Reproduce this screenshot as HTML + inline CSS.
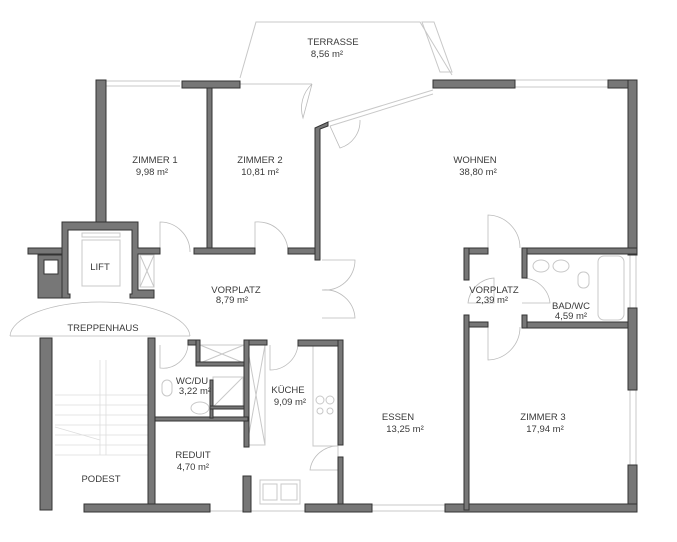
<!DOCTYPE html>
<html><head><meta charset="utf-8"><style>
html,body{margin:0;padding:0;background:#fff}
svg{display:block}
text{font-family:"Liberation Sans",sans-serif;font-size:9.5px;fill:#3a3a3a;text-anchor:middle}
.w{fill:#777;stroke:#333;stroke-width:1}
.l{fill:none;stroke:#c8c8c8;stroke-width:1}
.s{fill:none;stroke:#ddd;stroke-width:0.8}
.d{fill:none;stroke:#bbb;stroke-width:0.8}
</style></head><body>
<svg width="677" height="542" viewBox="0 0 677 542" xmlns="http://www.w3.org/2000/svg">
<polyline class="l" points="240,78 256,22 420,22 452,75"/>
<polygon class="l" points="422,22 434,22 452,72 440,72"/>
<line class="l" x1="105" y1="81" x2="180" y2="81"/><line class="l" x1="105" y1="86" x2="180" y2="86"/>
<line class="l" x1="240" y1="84" x2="312" y2="84"/>
<line class="l" x1="328" y1="122" x2="433" y2="90"/><line class="l" x1="330" y1="126" x2="433" y2="94"/>
<line class="l" x1="515" y1="80" x2="608" y2="80"/><line class="l" x1="515" y1="87" x2="608" y2="87"/>
<line class="l" x1="630" y1="255" x2="630" y2="308"/><line class="l" x1="636" y1="255" x2="636" y2="308"/>
<line class="l" x1="630" y1="390" x2="630" y2="465"/><line class="l" x1="636" y1="390" x2="636" y2="465"/>
<line class="l" x1="372" y1="505" x2="445" y2="505"/><line class="l" x1="372" y1="511" x2="445" y2="511"/>
<line class="l" x1="210" y1="511" x2="305" y2="511"/>
<path class="d" d="M312,84 L303,118 A33,33 0 0 1 312,84"/>
<path class="d" d="M330,126 L340,148 A28,28 0 0 0 360,120"/>
<path class="d" d="M160,252 L160,222 A30,30 0 0 1 190,252"/>
<path class="d" d="M255,252 L255,222 A30,30 0 0 1 288,252"/>
<path class="d" d="M322,260 L355,260 A30,30 0 0 1 322,290 A30,30 0 0 1 355,318 L322,318"/>
<path class="d" d="M10,336 A90,35 0 0 1 100,302 M100,302 A90,35 0 0 1 190,336 M10,336 L190,336"/>
<path class="d" d="M160,345 L160,368 A25,25 0 0 0 188,345"/>
<path class="d" d="M270,345 L270,370 A28,28 0 0 0 298,345"/>
<path class="d" d="M310,470 A28,28 0 0 1 338,446 L338,470 Z"/>
<path class="d" d="M488,248 L488,215 A33,33 0 0 1 520,248"/>
<path class="d" d="M468,303 A28,28 0 0 1 494,278 L494,303 Z"/>
<path class="d" d="M522,278 A28,28 0 0 1 550,303 L522,303"/>
<path class="d" d="M488,327 L488,360 A33,33 0 0 0 520,327"/>
<g class="s">
<line x1="55" y1="395" x2="148" y2="395"/><line x1="55" y1="405" x2="148" y2="405"/><line x1="55" y1="415" x2="148" y2="415"/>
<line x1="55" y1="425" x2="148" y2="425"/><line x1="55" y1="435" x2="148" y2="435"/><line x1="55" y1="445" x2="148" y2="445"/>
<line x1="55" y1="455" x2="148" y2="455"/><line x1="100" y1="360" x2="100" y2="455"/><line x1="106" y1="360" x2="106" y2="455"/>
<line x1="55" y1="427" x2="100" y2="440"/>
</g>
<g class="l">
<rect x="247" y="345" width="18" height="100"/><line x1="247" y1="345" x2="265" y2="445"/><line x1="265" y1="345" x2="247" y2="445"/>
<rect x="200" y="345" width="44" height="18"/><line x1="200" y1="345" x2="244" y2="363"/><line x1="244" y1="345" x2="200" y2="363"/>
<rect x="213" y="377" width="30" height="30"/><line x1="213" y1="407" x2="243" y2="377"/>
<rect x="313" y="346" width="25" height="100"/><circle cx="320" cy="400" r="4"/><circle cx="330" cy="400" r="4"/><circle cx="320" cy="411" r="3"/><circle cx="330" cy="411" r="3"/>
<rect x="260" y="480" width="40" height="24"/><rect x="263" y="484" width="14" height="16"/><rect x="281" y="484" width="16" height="16"/>
<ellipse cx="200" cy="408" rx="9" ry="6"/><rect x="162" y="380" width="10" height="16" rx="5"/>
<rect x="140" y="255" width="14" height="32"/><line x1="140" y1="255" x2="154" y2="287"/><line x1="154" y1="255" x2="140" y2="287"/>
<rect x="598" y="256" width="26" height="64" rx="6"/>
<ellipse cx="541" cy="266" rx="8" ry="6"/><ellipse cx="561" cy="266" rx="8" ry="6"/><rect x="578" y="272" width="11" height="16" rx="5"/>
<rect x="82" y="240" width="38" height="46"/><rect x="82" y="233" width="38" height="4"/>
</g>
<g class="w">
<rect x="96" y="80" width="10" height="150"/>
<rect x="182" y="81" width="58" height="7"/>
<rect x="207" y="88" width="5" height="160"/>
<rect x="28" y="248" width="34" height="6"/>
<rect x="194" y="248" width="61" height="6"/>
<rect x="288" y="248" width="28" height="6"/>
<polygon points="315,128 315,260 320,260 320,129 328,126 328,122"/>
<path fill-rule="evenodd" d="M62,222 H138 V248 H160 V254 H138 V290 H154 V298 H130 V294 H132 V230 H68 V294 H70 V298 H62 Z"/>
<path fill-rule="evenodd" d="M38,255 H62 V298 H38 Z M44,260 V274 H58 V260 Z"/>
<rect x="40" y="338" width="12" height="172"/>
<rect x="148" y="338" width="7" height="170"/>
<rect x="84" y="504" width="126" height="8"/>
<rect x="188" y="340" width="12" height="5"/><rect x="196" y="340" width="4" height="26"/><rect x="196" y="362" width="48" height="4"/>
<rect x="244" y="340" width="23" height="5"/><rect x="244" y="340" width="5" height="107"/>
<rect x="155" y="417" width="93" height="4"/><rect x="210" y="380" width="3" height="38"/><rect x="210" y="406" width="34" height="3"/>
<rect x="298" y="340" width="45" height="6"/><rect x="338" y="340" width="5" height="105"/><rect x="338" y="457" width="5" height="53"/>
<rect x="243" y="476" width="8" height="36"/><rect x="305" y="504" width="67" height="8"/>
<rect x="433" y="80" width="82" height="8"/><rect x="608" y="80" width="29" height="8"/>
<rect x="628" y="80" width="9" height="175"/>
<rect x="522" y="248" width="115" height="6"/><rect x="522" y="248" width="5" height="30"/>
<rect x="522" y="322" width="115" height="6"/><rect x="522" y="315" width="5" height="13"/>
<rect x="628" y="308" width="9" height="82"/><rect x="628" y="465" width="9" height="47"/>
<rect x="445" y="504" width="192" height="8"/>
<rect x="464" y="248" width="24" height="6"/><rect x="464" y="248" width="5" height="32"/>
<rect x="464" y="322" width="24" height="5"/><rect x="464" y="315" width="5" height="195"/>
</g>
<text x="333" y="45">TERRASSE</text><text x="327" y="57">8,56 m²</text>
<text x="155" y="163">ZIMMER 1</text><text x="152" y="175">9,98 m²</text>
<text x="260" y="163">ZIMMER 2</text><text x="260" y="175">10,81 m²</text>
<text x="475" y="163">WOHNEN</text><text x="478" y="175">38,80 m²</text>
<text x="100" y="270">LIFT</text>
<text x="236" y="293">VORPLATZ</text><text x="232" y="303">8,79 m²</text>
<text x="103" y="331">TREPPENHAUS</text>
<text x="494" y="293">VORPLATZ</text><text x="492" y="303">2,39 m²</text>
<text x="571" y="309">BAD/WC</text><text x="571" y="319">4,59 m²</text>
<text x="192" y="384">WC/DU</text><text x="195" y="394">3,22 m²</text>
<text x="288" y="393">KÜCHE</text><text x="290" y="405">9,09 m²</text>
<text x="398" y="420">ESSEN</text><text x="405" y="432">13,25 m²</text>
<text x="543" y="420">ZIMMER 3</text><text x="545" y="432">17,94 m²</text>
<text x="193" y="458">REDUIT</text><text x="193" y="470">4,70 m²</text>
<text x="101" y="482">PODEST</text>
</svg>
</body></html>
